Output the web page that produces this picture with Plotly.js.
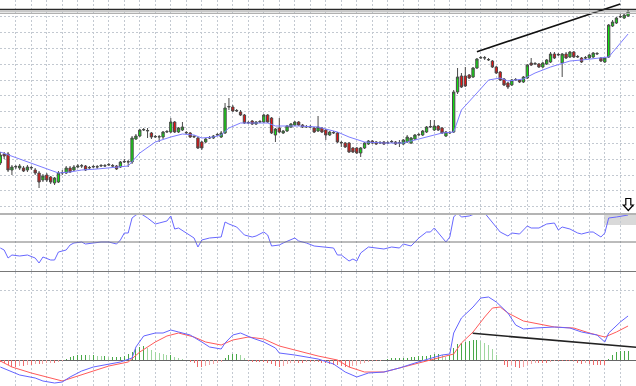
<!DOCTYPE html>
<html><head><meta charset="utf-8">
<script src="https://cdn.plot.ly/plotly-3.0.1.min.js"></script>
<style>html,body{margin:0;padding:0;background:#fff;}#chart{width:636px;height:386px;}</style>
</head><body><div id="chart"></div>
<script>
// ---- price candles (bar index 0..162) ----
const open  = [50,59,59,43,46,45,45,43,45,43,40,33,38,36,30,31,40,40,45,43,46,47,47,45,46,46,47,47,48,47.5,47,46,51,51,51,74,77,83,82,80,76,76,76,81,81,91,81,83,80,80,76,75,71,71,75,75,78,76,80,106,106,102,101,98,90,92,89,91,91,98,95,78,85,80,82,86,88,91,88,86,86,85,82,85,83,78,80,80,70,70,70,65,65,60,65,69,72,71,70,71,70,71,71,70,69,71,70,74,78,78,81,86,83,87,85,77,80,81,121,137,137,138,136,145,155,155,153,152,146,141,134,130,128,133,133,131,135,150,149,149,146,149,151,159,158,150,159,156,161,156,155,155,155,156,159,155,151,156,187,190,196,195,197];
const high  = [61,61,61,48,48,49,47,48,47,45,42,39,40,37,36,42,43,47,47,48,49,49,48,47,48,48,49,49,50,49,48,52,54,53,77,79,84,85,85,81,78,78,82,83,95,92,86,91,82,81,78,76,72,75,77,78,80,82,110,115,108,104,103,99,92,93,92,93,99,99,96,85,95,83,88,90,92,92,89,88,88,86,97,86,84,82,82,81,72,71,71,66,66,66,71,73,73,72,72,72,72,73,72,73,74,78,76,79,80,83,87,93,93,88,86,82,82,123,145,140,146,139,146,155,157,157,155,153,147,142,135,131,134,135,134,137,149,155,151,150,151,154,161,161,160,160,161,162,162,158,156,157,159,161,161,156,156,189,193,196,199,199,204];
const low   = [48,54,41,38,44,43,41,41,43,38,25,31,31,29,28,30,38,39,40,42,45,45,42,44,45,44,46,46,47,46,43,45,50,46,49,73,76,82,75,74,75,71,74,80,80,80,80,82,79,75,75,64,63,70,74,74,77,75,79,103,101,101,97,89,89,88,88,90,90,90,79,71,80,79,81,85,87,87,85,85,85,80,81,80,73,77,79,70,66,65,60,60,59,56,64,68,69,68,69,68,69,70,68,66,68,70,69,73,77,77,80,85,82,82,79,76,79,80,119,125,126,134,135,144,154,153,152,145,139,132,127,124,127,132,130,130,134,147,148,145,145,148,150,154,157,136,154,155,155,155,150,154,154,155,158,151,150,155,186,189,195,194,196];
const close = [58,57,43,46,46.5,47,42,46,45.5,40,31,37,33,31,35,40,40.5,45,41,46,47,47.3,43,45.5,46.5,46.3,47.5,47.3,48.5,47,44,51,51.5,51.3,75,77,83,83.5,82.5,76,76.5,76.3,81,81.5,91,81,85,86,80.5,76,76.5,65,65,74,75.3,77,78.5,80,105,106.5,102,102.5,98,90,90.5,89,91,91.5,98,91,80,84,81,82,87,89,91,88,86,86.5,86.3,81,86,81,78,81,80.5,71,70.5,66,61,61,60,65,70,72,70,69,70.5,69,70.3,71.5,69,70.3,73,76,75,78,78.5,82,86,86.5,87,83,80,81,80.5,121,136,126,127,135,145,154,155.5,155.3,153.5,146,140,133,128,126,133,133.5,131,136,148,148,149.5,146,150,153,159,155,158.5,159,155,161,156,156.5,151,155.3,158,160,159.5,152,155,188,191,195,196.5,198,201];

// ---- moving average (bar index, price) ----
const maBar = [0,5,10,15,18,21,25,28,33,36,40,44,47,50,52,55,57,59,62,65,69,71,77,82,87,90,94,99,104,107,111,114,117,119,123,126,129,131,135,138,142,145,147,150,154,157,162];
const maVal = [61,54,47,40,41,43,44,45,47,60,71,76,79,78,75,76,78,85,90,90,90,87,87,86,81,76,71,70,70,73,77,80,81,103,120,133,135,132,134,140,146,150,152,153,155,156,179];

// ---- oscillator (bar index, value) ----
const rsiBar = [0,1,2,3,5,7,9,10,11,13,14,15,17,18,19,21,22,24,26,28,30,31,32,33,34,35,36,38,40,41,43,44,45,46,48,50,51,52,54,57,58,59,61,63,65,66,68,69,70,72,73,75,76,77,79,81,83,86,87,88,90,91,92,93,95,97,99,101,103,104,106,107,108,110,111,112,113,115,116,117,118,119,121,123,125,127,129,131,132,134,136,137,139,141,143,144,145,147,149,150,152,153,155,156,157,159,162];
const rsiVal = [44,42,34,37,36,37,34,29,35,32,32,40,42,47,49,50,48,49,50,50,48,52,59,59,74,77,79,74,68,69,71,76,63,64,59,54,45,52,54,55,70,68,65,57,55,56,60,57,46,47,49,52,54,51,49,46,45,44,37,37,31,33,31,39,45,44,43,45,44,48,46,50,54,60,60,64,59,50,55,75,79,75,76,79,79,70,60,56,59,58,66,64,64,68,69,62,65,63,59,58,60,60,55,59,74,75,77];

// ---- MACD main & signal (bar index, value) ----
const macdBar = [0,3,5,9,11,14,16,18,21,24,28,31,34,35,37,40,42,44,46,49,52,54,57,58,60,62,65,68,71,72,76,80,82,86,89,92,95,99,103,107,112,114,116,117,119,122,124,126,128,131,133,135,138,143,147,150,154,156,157,160,162];
const macdVal = [-7,-12,-15,-18,-21,-23,-22,-17,-11,-7,-4,-2,2,13,24,27,27,30,28,25,18,13,11,17,25,27,22,18,12,7,5,2,1,-4,-12,-17,-13,-12,-8,-3,3,5,6,27,42,53,62,63,58,47,35,31,32,33,32,28,25,18,27,38,44];
const sigBar = [0,3,8,12,16,20,24,28,33,36,40,43,46,50,53,57,60,64,68,72,76,80,82,87,90,94,99,104,109,114,117,119,122,125,127,129,131,135,140,143,148,152,156,159,162];
const sigVal = [-1,-7,-13,-17,-21,-16,-11,-6,-2,8,18,24,27,23,18,15,20,23,21,14,10,6,4,0,-7,-12,-12,-7,-2,3,6,17,28,43,52,53,47,39,35,33,32,27,23,28,34];
const hist = [-2,-3.3,-5,-6.7,-6.7,-6,-6,-5,-5,-4,-4.3,-4,-3.3,-2.7,-3.3,-1.7,-0.5,0.7,2.7,4,5,5,5,4.7,4.7,4.3,4,4,3.3,3.3,3.3,3.3,4,6,8.3,10.7,13.3,14.3,11.7,10,8.3,6.7,6,5,5,3.3,2.3,0.7,-0.3,-1.7,-3.3,-6.7,-6.7,-6,-5,-4,-3.3,-1.7,1.7,5,6,6,5,1.7,-0.5,-1.7,-1.7,-1.7,-1.7,-2.7,-4,-6,-6.7,-6,-4,-3.3,-2.7,-2.7,-2.7,-2,-2,-1.7,-2.3,-3.3,-3.3,-4,-5,-5,-6,-6.7,-6.7,-6,-5,-4,-2.7,-1.7,-0.7,-0.7,-0.5,-0.3,0.7,1.7,1.7,1.7,1.7,1.7,2.7,3.3,4,4.3,4.3,5,5.7,6,5,3.3,5,11.7,16,17.3,18.3,19.3,20,20,19.3,17.3,15,10.7,5,-0.3,-5,-6.7,-5,-6.7,-8.3,-6.7,-5,-4,-3.3,-3.3,-3.3,-3.3,-1.7,-0.7,-0.7,-0.7,-0.7,-0.7,-1,-3.3,-4,-3.3,-4,-5,-5,-5,-5,0.7,5,8.3,9.3,9.3,9.3];

// ---- drawn objects ----
const priceLevels = [203.5, 201.2, 199.5];
const trendBar = [123, 160];
const trendVal = [161.3, 209];
const macdTrendBar = [121.9, 164.05];
const macdTrendVal = [26.7, 12.7];
const zoneBar = [155.8, 164.1];
const zoneVal = [67, 79];
const rsiLevel = 50;

const bar = open.map((_, k) => k);
const histColor = hist.map((h, k) => {
  const prev = k > 0 ? hist[k - 1] : 0;
  if (h >= 0) return h >= prev ? '#49a849' : '#9fd69f';
  return h <= prev ? '#ef6b6b' : '#f4a3a3';
});

// grid positions
const xGrid = []; for (let k = 1; k <= 41; k++) xGrid.push(k * 4);
const yGrid = []; for (let k = 0; k <= 13; k++) yGrid.push(6.3 + 15.83 * k);

const gridCol = '#c3c9d1';
const traces = [
  {type:'bar', x:bar, y:hist, xaxis:'x', yaxis:'y3', width:0.28,
   marker:{color:histColor, line:{width:0}}, hoverinfo:'skip'},
  {type:'candlestick', x:bar, open:open, high:high, low:low, close:close, xaxis:'x', yaxis:'y',
   increasing:{line:{color:'#4a4a4a', width:1}, fillcolor:'#10e010'},
   decreasing:{line:{color:'#4a4a4a', width:1}, fillcolor:'#e81010'},
   whiskerwidth:0, hoverinfo:'skip'},
  {type:'scatter', mode:'lines', x:maBar, y:maVal, xaxis:'x', yaxis:'y',
   line:{color:'#7d7dff', width:1}, hoverinfo:'skip'},
  {type:'scatter', mode:'lines', x:trendBar, y:trendVal, xaxis:'x', yaxis:'y',
   line:{color:'#111111', width:1.6}, hoverinfo:'skip'},
  {type:'scatter', mode:'lines', x:rsiBar, y:rsiVal, xaxis:'x', yaxis:'y2',
   line:{color:'#6868ff', width:1}, hoverinfo:'skip'},
  {type:'scatter', mode:'lines', x:sigBar, y:sigVal, xaxis:'x', yaxis:'y3',
   line:{color:'#ff5a5a', width:1}, hoverinfo:'skip'},
  {type:'scatter', mode:'lines', x:macdBar, y:macdVal, xaxis:'x', yaxis:'y3',
   line:{color:'#6464ff', width:1}, hoverinfo:'skip'},
  {type:'scatter', mode:'lines', x:macdTrendBar, y:macdTrendVal, xaxis:'x', yaxis:'y3',
   line:{color:'#222222', width:1.6}, hoverinfo:'skip'}
];

const px = (x) => x / 636, py = (y) => 1 - y / 386;
const shapes = [];
priceLevels.forEach((lv, k) => shapes.push({type:'line', xref:'paper', x0:0, x1:1, yref:'y', y0:lv, y1:lv,
  line:{color: k === 0 ? '#2a2a2a' : '#b0b0b0', width: k === 0 ? 1.5 : 1}}));
shapes.push({type:'rect', xref:'x', x0:zoneBar[0], x1:zoneBar[1], yref:'y2', y0:zoneVal[0], y1:zoneVal[1],
  fillcolor:'#d9d9d9', line:{width:0}, layer:'below'});
shapes.push({type:'line', xref:'paper', x0:0, x1:1, yref:'paper', y0:py(214), y1:py(214), line:{color:'#b4b4b4', width:2}});
shapes.push({type:'line', xref:'paper', x0:0, x1:1, yref:'y2', y0:rsiLevel, y1:rsiLevel, line:{color:'#787878', width:1}});
shapes.push({type:'line', xref:'paper', x0:0, x1:1, yref:'paper', y0:py(271.5), y1:py(271.5), line:{color:'#787878', width:1}});
// hollow down-arrow marker
const ax = 628.3;
const arrowPath = 'M ' + [[ax-2.5,198.5],[ax+2.5,198.5],[ax+2.5,205],[ax+5,205],[ax,210.5],[ax-5,205],[ax-2.5,205]]
  .map(p => px(p[0]) + ',' + py(p[1])).join(' L ') + ' Z';
shapes.push({type:'path', xref:'paper', yref:'paper', path:arrowPath, fillcolor:'#ffffff', line:{color:'#000000', width:1.2}});

const layout = {
  width:636, height:386, margin:{l:0, r:0, t:0, b:0}, showlegend:false,
  paper_bgcolor:'#ffffff', plot_bgcolor:'#ffffff', hovermode:false, dragmode:false,
  bargap:0, boxgap:0.15,
  xaxis:{domain:[0,1], anchor:'y3', range:[-0.0774,164.05], tickmode:'array', tickvals:xGrid,
    showgrid:true, gridcolor:gridCol, griddash:'2px,2px', gridwidth:1,
    showticklabels:false, ticks:'', zeroline:false, showline:false,
    rangeslider:{visible:false}, fixedrange:true},
  yaxis:{domain:[1-213/386,1], anchor:'x', range:[0,213], tickmode:'array', tickvals:yGrid,
    showgrid:true, gridcolor:gridCol, griddash:'2px,2px', showticklabels:false, ticks:'',
    zeroline:false, showline:false, fixedrange:true},
  yaxis2:{domain:[1-271/386,1-213/386], anchor:'x', range:[21,79],
    showgrid:false, showticklabels:false, ticks:'', zeroline:false, showline:false, fixedrange:true},
  yaxis3:{domain:[0,1-272/386], anchor:'x', range:[-26,88], tickmode:'array', tickvals:[70],
    showgrid:true, gridcolor:gridCol, griddash:'2px,2px', showticklabels:false, ticks:'',
    zeroline:true, zerolinecolor:'#666666', zerolinewidth:1, showline:false, fixedrange:true},
  shapes:shapes
};

Plotly.newPlot('chart', traces, layout, {staticPlot:true, displayModeBar:false});
</script>
</body></html>
